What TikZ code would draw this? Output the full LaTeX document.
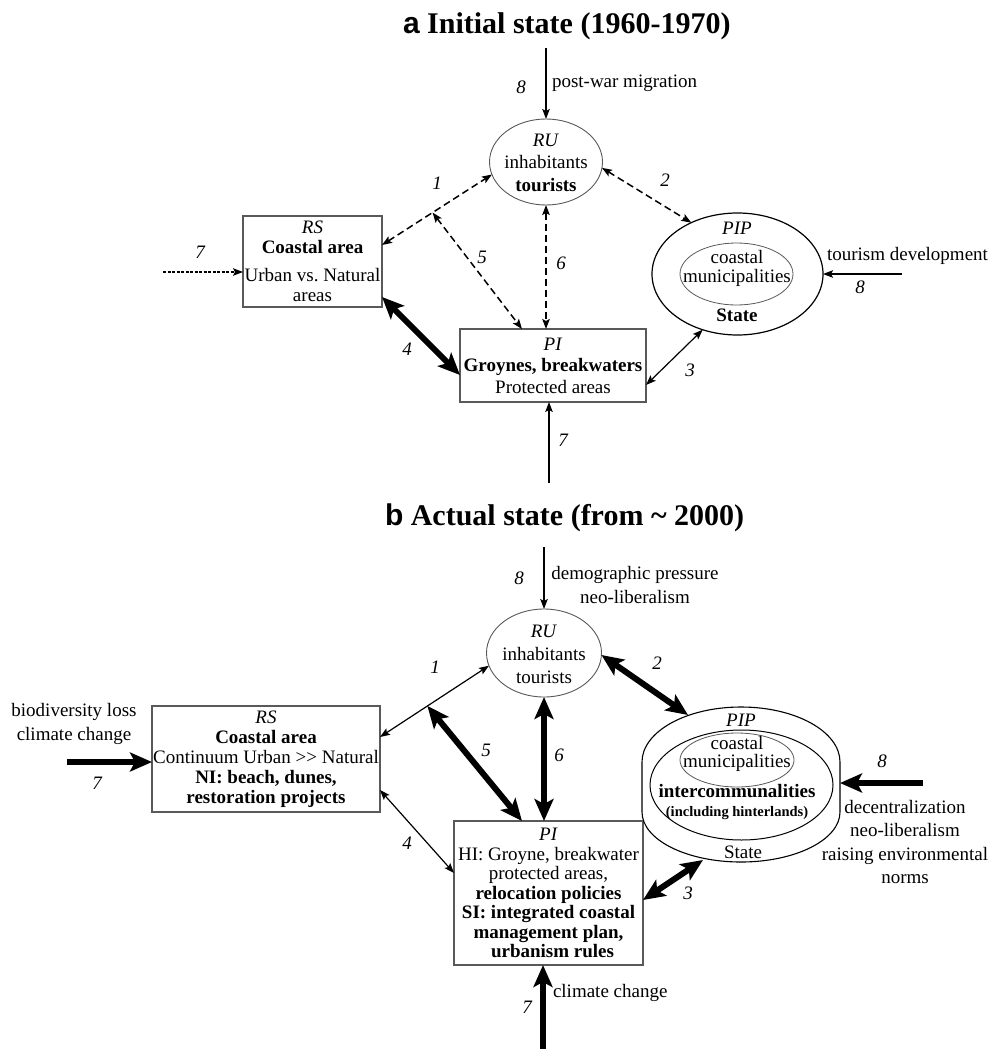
\documentclass[tikz,border=0pt]{standalone}
\usepackage{fontspec}
\setmainfont{Liberation Serif}
\newfontfamily\ttlsans{Liberation Sans}
\usetikzlibrary{arrows.meta,shapes.geometric}
\tikzset{
  st/.tip={Stealth[length=10pt,width=7.5pt,inset=2pt]},
  bst/.tip={Stealth[length=22pt,width=19pt,inset=5pt]},
  txt/.style={align=center,font=\fontsize{19}{22}\selectfont},
  lab/.style={font=\fontsize{19}{22}\selectfont\itshape},
  ttl/.style={anchor=base west,font=\fontsize{30}{32}\selectfont\bfseries},
  boxn/.style={draw=black!65,line width=1.1pt,rectangle,align=center},
  ell/.style={draw=black!65,line width=0.9pt,ellipse},
  cn/.style={line width=1.2pt},
  dcn/.style={line width=1.5pt,dash pattern=on 7pt off 4pt},
  fcn/.style={line width=1.2pt,dash pattern=on 3pt off 1.5pt},
  bcn/.style={line width=6pt},
}
\begin{document}
\begin{tikzpicture}[x=1pt,y=-1pt,every node/.style={inner sep=0pt,outer sep=0pt}]
\fill[white] (0,0) rectangle (989,1049);
\useasboundingbox (0,0) rectangle (989,1049);

% ================= panel a =================
\node[ttl] (ttla) at (403,34) {{\ttlsans a} Initial state (1960-1970)};

\node[ell,minimum width=113pt,minimum height=86pt] (RUa) at (546,162) {};
\node[txt,font=\fontsize{19}{22.5}\selectfont] (RUat) at (546,162.5) {\textit{RU}\\inhabitants\\\textbf{tourists}};

\node[boxn,minimum width=139pt,minimum height=91pt,font=\fontsize{19}{19.5}\selectfont] (RSa) at (312.5,261.5)
  {\textit{RS}\\\textbf{Coastal area}\\[9pt]Urban vs.\ Natural\\areas};

\node[boxn,minimum width=186pt,minimum height=73pt,font=\fontsize{19}{21.5}\selectfont] (PIa) at (553,365.5)
  {\textit{PI}\\\textbf{Groynes, breakwaters}\\Protected areas};

\node[draw,ellipse,line width=1.2pt,minimum width=171pt,minimum height=122pt] (PIPao) at (737.5,274) {};
\node[ell,line width=0.8pt,minimum width=113pt,minimum height=62pt] (PIPai) at (736.5,274) {};
\node[txt] (PIPat) at (737,228) {\textit{PIP}};
\node[txt,font=\fontsize{19}{19}\selectfont] (PIPact) at (737,268) {coastal\\municipalities};
\node[txt] (PIPas) at (737,315) {\textbf{State}};

% external drivers a
\coordinate (s8a) at (546,48);
\coordinate (s8ra) at (902,274);
\coordinate (s7a) at (163,272);
\coordinate (s7ba) at (549,483);
\draw[cn,-st] (s8a) -- (RUa.north);
\draw[cn,-st] (s8ra) -- (PIPao.east);
\draw[fcn,-st] (s7a) -- ([yshift=-10.5pt]RSa.west);
\draw[cn,-st] (s7ba) -- ([xshift=-4pt]PIa.south);

% connectors a
\draw[dcn,st-st] ([yshift=16.5pt]RSa.east) -- (RUa.193);
\path ([yshift=16.5pt]RSa.east) -- (RUa.193) coordinate[pos=0.46] (J1a);
\draw[dcn,st-st] (J1a) -- ([xshift=-31pt]PIa.north);
\draw[dcn,st-st] (RUa.south) -- ([xshift=-7pt]PIa.north);
\draw[dcn,st-st] (RUa.-6) -- (PIPao.132);
\draw[cn,st-st] ([yshift=-19.5pt]PIa.east) -- (PIPao.238);
\draw[bcn,bst-bst] ([yshift=10pt]RSa.south east) -- ([yshift=-9.5pt]PIa.west);

% labels a
\node[lab] (la8) at (521,87) {8};
\node[txt,anchor=west] (lapw) at (552,83) {post-war migration};
\node[lab] (la1) at (437,183) {1};
\node[lab] (la5) at (482,257) {5};
\node[lab] (la6) at (561,263) {6};
\node[lab] (la2) at (665,180) {2};
\node[lab] (la3) at (690,370) {3};
\node[lab] (la4) at (407,349) {4};
\node[lab] (la7) at (200,252) {7};
\node[lab] (la7b) at (563,440) {7};
\node[lab] (la8r) at (860,287) {8};
\node[txt,anchor=west] (latd) at (827,256) {tourism development};

% ================= panel b =================
\node[ttl] (ttlb) at (385,525) {{\ttlsans b} Actual state (from \textasciitilde\ 2000)};

\node[ell,minimum width=115pt,minimum height=88pt] (RUb) at (544,653) {};
\node[txt,font=\fontsize{19}{23}\selectfont] (RUbt) at (544,654) {\textit{RU}\\inhabitants\\tourists};

\node[boxn,minimum width=228pt,minimum height=106pt,font=\fontsize{19}{20}\selectfont] (RSb) at (266,759)
  {\textit{RS}\\\textbf{Coastal area}\\Continuum Urban >{}> Natural\\\textbf{NI: beach, dunes,}\\\textbf{restoration projects}};

\node[boxn,minimum width=189pt,minimum height=144pt,font=\fontsize{19}{19.5}\selectfont] (PIb) at (548.5,893)
  {\textit{PI}\\HI: Groyne, breakwater\\protected areas,\\\textbf{relocation policies}\\\textbf{SI: integrated coastal}\\\textbf{management plan,}\\\hspace{8pt}\textbf{urbanism rules}};

% PIP b
\draw[line width=1.1pt] (642,762) .. controls (642,731.6) and (686.3,707) .. (741,707)
  .. controls (795.7,707) and (840,731.6) .. (840,762) -- (840,812)
  .. controls (840,839.6) and (795.7,862) .. (741,862)
  .. controls (686.3,862) and (642,839.6) .. (642,812) -- cycle;
\node[draw,ellipse,line width=1pt,minimum width=183pt,minimum height=110pt] (PIPbi) at (741.5,785) {};
\node[ell,line width=0.8pt,minimum width=114pt,minimum height=54pt] (PIPbc) at (737,760) {};
\node[txt] (PIPbt) at (741,720) {\textit{PIP}};
\node[txt,font=\fontsize{19}{18}\selectfont] (PIPbct) at (737,754) {coastal\\municipalities};
\node[txt,font=\fontsize{19}{19}\selectfont] (PIPbit) at (737,802) {\textbf{intercommunalities}\\{\fontsize{14.5}{15}\selectfont\textbf{(including hinterlands)}}};
\node[txt] (PIPbs) at (743,852) {State};
\coordinate (PIPb2) at (688,715);
\coordinate (PIPb3) at (703,860);
\coordinate (PIPb8) at (840,783);

% external drivers b
\coordinate (s8b) at (544,547);
\coordinate (s7b) at (67,762);
\coordinate (s8rb) at (923,783);
\coordinate (s7bb) at (543,1049);
\draw[cn,-st] (s8b) -- (RUb.north);
\draw[bcn,-bst] (s7b) -- ([yshift=-3pt]RSb.west);
\draw[bcn,-bst] (s8rb) -- (PIPb8);
\draw[bcn,-bst] (s7bb) -- ([xshift=-5.5pt]PIb.south);

% connectors b
\draw[cn,st-st] ([yshift=22pt]RSb.east) -- (RUb.193);
\path ([yshift=22pt]RSb.east) -- (RUb.193) coordinate[pos=0.435] (J1b);
\draw[bcn,bst-bst] (J1b) -- ([xshift=-26.5pt]PIb.north);
\draw[bcn,bst-bst] (RUb.south) -- ([xshift=-4.5pt]PIb.north);
\draw[bcn,bst-bst] (RUb.-2) -- (PIPb2);
\draw[bcn,bst-bst] ([yshift=-7pt]PIb.east) -- (PIPb3);
\draw[cn,st-st] ([yshift=-31pt]RSb.east) -- ([yshift=20pt]PIb.west);

% labels b
\node[lab] (lb8) at (519,578) {8};
\node[txt,font=\fontsize{19}{24}\selectfont] (lbdem) at (635,585) {demographic pressure\\neo-liberalism};
\node[lab] (lb1) at (435,667) {1};
\node[lab] (lb5) at (486,750) {5};
\node[lab] (lb6) at (559,755) {6};
\node[lab] (lb2) at (657,663) {2};
\node[lab] (lb3) at (688,893) {3};
\node[lab] (lb4) at (407,843) {4};
\node[lab] (lb7) at (97,783) {7};
\node[txt,font=\fontsize{19}{24}\selectfont] (lbbio) at (74,724) {biodiversity loss\\climate change};
\node[lab] (lb8r) at (882,761) {8};
\node[txt,font=\fontsize{19}{23.5}\selectfont] (lbdec) at (905,842) {decentralization\\neo-liberalism\\raising environmental\\norms};
\node[lab] (lb7b) at (527,1007) {7};
\node[txt,anchor=west] (lbcc) at (553,993) {climate change};
\end{tikzpicture}
\end{document}
